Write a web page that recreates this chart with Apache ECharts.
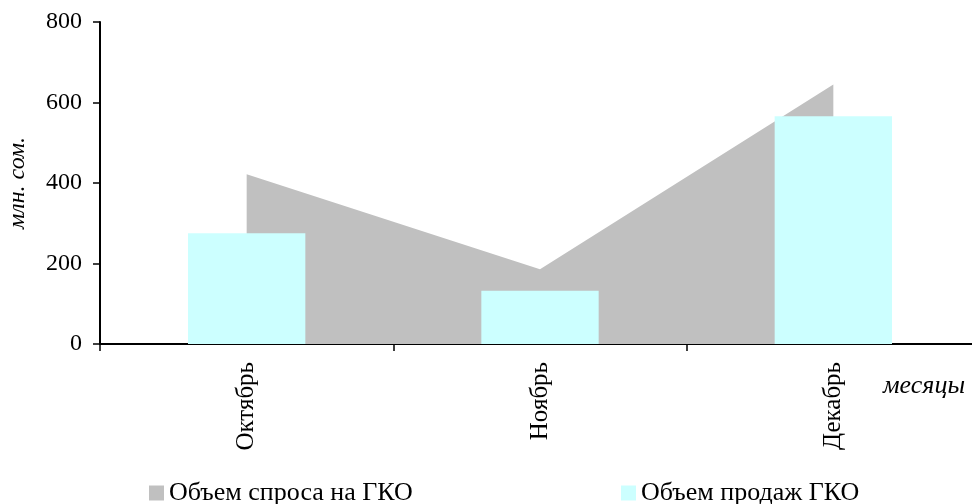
<!DOCTYPE html>
<html>
<head>
<meta charset="utf-8">
<script src="https://cdn.jsdelivr.net/npm/echarts@6/dist/echarts.min.js"></script>
<style>
  html, body { margin: 0; padding: 0; background: #fff; }
  #chart { width: 972px; height: 504px; }
</style>
</head>
<body>
<div id="chart"></div>
<script>
var months = ['Октябрь', 'Ноябрь', 'Декабрь'];
var demand = [422, 186, 645];
var sales = [275, 132, 566];
var yTicks = [0, 200, 400, 600, 800];

var chartDom = document.getElementById('chart');
var myChart = echarts.init(chartDom);
var option;

var serif = '"Liberation Serif", "Times New Roman", serif';

option = {
    animation: false,
    textStyle: { fontFamily: serif, color: '#000' },
    grid: { left: 100, right: -8, top: 22, bottom: 160, outerBoundsMode: 'none', containLabel: false },
    legend: [
        {
            data: ['Объем спроса на ГКО'],
            left: 149, top: 480, padding: 0,
            icon: 'rect', itemWidth: 15, itemHeight: 15,
            textStyle: { fontFamily: serif, fontSize: 26, color: '#000' }
        },
        {
            data: ['Объем продаж ГКО'],
            left: 621, top: 480, padding: 0,
            icon: 'rect', itemWidth: 15, itemHeight: 15,
            textStyle: { fontFamily: serif, fontSize: 26, color: '#000' }
        }
    ],
    xAxis: {
        type: 'category',
        data: months,
        axisLine: { lineStyle: { color: '#000', width: 2 } },
        axisTick: { show: true, length: 7, lineStyle: { color: '#000', width: 1.5 } },
        axisLabel: { rotate: 90, margin: 18, fontFamily: serif, fontSize: 25, color: '#000' }
    },
    yAxis: {
        type: 'value',
        min: yTicks[0],
        max: yTicks[yTicks.length - 1],
        interval: 200,
        name: 'млн. сом.',
        nameLocation: 'middle',
        nameRotate: 90,
        nameGap: 70,
        nameTextStyle: { fontFamily: serif, fontSize: 24, fontStyle: 'italic', color: '#000' },
        splitLine: { show: false },
        axisLine: { show: true, lineStyle: { color: '#000', width: 2 } },
        axisTick: { show: true, length: 7, lineStyle: { color: '#000', width: 1.5 } },
        axisLabel: { margin: 18, fontFamily: serif, fontSize: 24, color: '#000' }
    },
    graphic: [
        {
            type: 'text',
            left: 883,
            top: 373,
            style: { text: 'месяцы', font: 'italic 26px ' + serif, fill: '#000' }
        }
    ],
    series: [
        {
            name: 'Объем спроса на ГКО',
            type: 'line',
            z: 1,
            data: demand,
            symbol: 'none',
            lineStyle: { width: 0 },
            itemStyle: { color: '#c0c0c0' },
            areaStyle: { color: '#c0c0c0', opacity: 1 }
        },
        {
            name: 'Объем продаж ГКО',
            type: 'bar',
            z: 3,
            data: sales,
            barWidth: '40%',
            itemStyle: { color: '#ccffff' }
        }
    ]
};

option && myChart.setOption(option);
</script>
</body>
</html>
